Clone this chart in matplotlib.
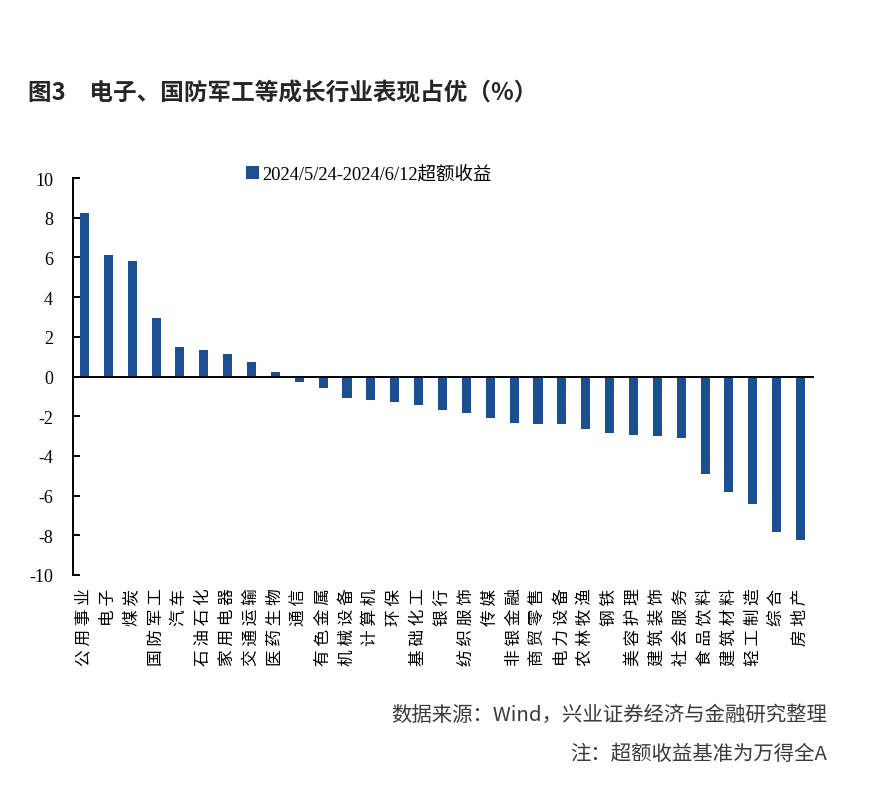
import matplotlib
matplotlib.use('Agg')
import matplotlib.pyplot as plt
from matplotlib.patches import Patch

plt.rcParams['font.family'] = ['Noto Sans CJK SC', 'DejaVu Sans']
plt.rcParams['axes.unicode_minus'] = False

# 行业与超额收益（%）
industries = ['公用事业', '电子', '煤炭', '国防军工', '汽车', '石油石化', '家用电器', '交通运输',
              '医药生物', '通信', '有色金属', '机械设备', '计算机', '环保', '基础化工', '银行',
              '纺织服饰', '传媒', '非银金融', '商贸零售', '电力设备', '农林牧渔', '钢铁', '美容护理',
              '建筑装饰', '社会服务', '食品饮料', '建筑材料', '轻工制造', '综合', '房地产']
excess_return = [8.25, 6.11, 5.84, 2.97, 1.51, 1.31, 1.11, 0.71,
                 0.25, -0.30, -0.60, -1.06, -1.16, -1.26, -1.46, -1.71,
                 -1.86, -2.07, -2.32, -2.37, -2.37, -2.62, -2.87, -2.97,
                 -3.02, -3.12, -4.89, -5.84, -6.41, -7.82, -8.26]
yticks = list(range(-10, 11, 2))
series_name = '2024/5/24-2024/6/12超额收益'

bar_color = '#1C4F91'
serif = ['Liberation Serif', 'Noto Sans CJK SC']

fig = plt.figure(figsize=(8.86, 8.12), dpi=100)
ax = fig.add_axes([72.5 / 886, 1 - 576 / 812, 740 / 886, (576 - 179) / 812])

x = list(range(len(industries)))
ax.bar(x, excess_return, width=0.38, color=bar_color, zorder=2)
ax.axhline(0, color='black', linewidth=1.4, zorder=3, clip_on=False)

ax.set_xlim(-0.5, len(industries) - 0.5)
ax.set_ylim(-10, 10)
ax.set_yticks(yticks)
ax.set_yticklabels([str(v) for v in yticks], family=serif, fontsize=13)
ax.tick_params(axis='y', direction='in', length=5, width=1.4, pad=14)

# 竖排标签，字间留一点空隙
ax.set_xticks(x)
ax.set_xticklabels([' '.join(s) for s in industries], rotation=90, fontsize=12,
                   va='top', ha='center')
ax.tick_params(axis='x', length=0, pad=9)

for s in ['top', 'right', 'bottom']:
    ax.spines[s].set_visible(False)
ax.spines['left'].set_linewidth(1.4)

# 图例
handle = Patch(facecolor=bar_color, edgecolor='none', label=series_name)
fig.legend(handles=[handle], loc='center', bbox_to_anchor=(369 / 886, 1 - 175 / 812),
           frameon=False, prop={'family': serif, 'size': 13.3},
           handlelength=0.7, handleheight=0.7, handletextpad=0.2, borderpad=0)

# 标题与注释
fig.text(28 / 886, 1 - 93 / 812, '图3\u3000电子、国防军工等成长行业表现占优（%）',
         fontsize=17, fontweight='bold', color='#262626', ha='left', va='center')
fig.text(827 / 886, 1 - 715 / 812, '数据来源：Wind，兴业证券经济与金融研究整理',
         fontsize=14.7, color='#3a3a3a', ha='right', va='center')
fig.text(827 / 886, 1 - 755 / 812, '注：超额收益基准为万得全A',
         fontsize=14.7, color='#3a3a3a', ha='right', va='center')

fig.savefig('out.png', dpi=100)
